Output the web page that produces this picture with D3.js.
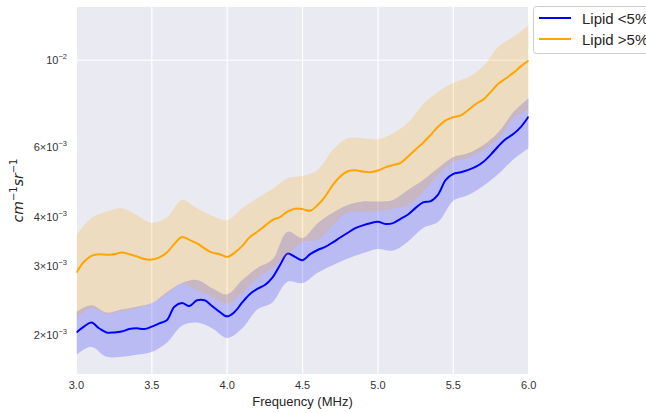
<!DOCTYPE html>
<html lang="en">
<head>
    <meta charset="utf-8">
    <title>lipid_backscatter</title>
    <script type="text/javascript" src="https://cdn.jsdelivr.net/npm/d3@7"></script>
    <style type="text/css">
        body { margin: 0; background: #ffffff; }
        text { font-family: "Liberation Sans", Arial, sans-serif; }
    </style>
</head>
<body>

<script type="text/javascript">

    // values are in units of 1e-3 cm^-1 sr^-1

    var lineFreq = [3.00, 3.05, 3.10, 3.15, 3.20, 3.25, 3.30, 3.35, 3.40, 3.45, 3.50,
        3.55, 3.60, 3.65, 3.70, 3.75, 3.80, 3.85, 3.90, 3.95, 4.00,
        4.05, 4.10, 4.15, 4.20, 4.25, 4.30, 4.35, 4.40, 4.45, 4.50,
        4.55, 4.60, 4.65, 4.70, 4.75, 4.80, 4.85, 4.90, 4.95, 5.00,
        5.05, 5.10, 5.15, 5.20, 5.25, 5.30, 5.35, 5.40, 5.45, 5.50,
        5.55, 5.60, 5.65, 5.70, 5.75, 5.80, 5.85, 5.90, 5.95, 6.00];

    var blueMean = [2.03, 2.10, 2.15, 2.08, 2.03, 2.03, 2.04, 2.07, 2.08, 2.07, 2.10,
        2.14, 2.18, 2.36, 2.41, 2.37, 2.45, 2.45, 2.37, 2.29, 2.23,
        2.29, 2.42, 2.54, 2.62, 2.68, 2.80, 3.01, 3.22, 3.16, 3.10,
        3.21, 3.29, 3.35, 3.44, 3.54, 3.64, 3.74, 3.80, 3.85, 3.88,
        3.83, 3.85, 3.95, 4.05, 4.21, 4.35, 4.38, 4.56, 4.96, 5.14,
        5.19, 5.26, 5.36, 5.52, 5.76, 6.05, 6.31, 6.50, 6.78, 7.19];

    var orangeMean = [2.88, 3.07, 3.18, 3.21, 3.20, 3.21, 3.24, 3.21, 3.17, 3.12, 3.11,
        3.15, 3.24, 3.41, 3.55, 3.49, 3.42, 3.32, 3.24, 3.21, 3.16,
        3.24, 3.37, 3.55, 3.66, 3.79, 3.92, 3.99, 4.12, 4.19, 4.18,
        4.14, 4.28, 4.50, 4.81, 5.06, 5.22, 5.25, 5.21, 5.19, 5.24,
        5.34, 5.41, 5.48, 5.69, 5.93, 6.17, 6.46, 6.78, 7.03, 7.16,
        7.24, 7.47, 7.74, 7.95, 8.32, 8.72, 9.00, 9.30, 9.66, 9.98];

    var bandFreq = [3.0, 3.1, 3.2, 3.3, 3.4, 3.5, 3.6, 3.7, 3.8, 3.9, 4.0,
        4.1, 4.2, 4.3, 4.4, 4.5, 4.6, 4.7, 4.8, 4.9, 5.0,
        5.1, 5.2, 5.3, 5.4, 5.5, 5.6, 5.7, 5.8, 5.9, 6.0];

    var blueLo = [1.78, 1.865, 1.76, 1.76, 1.78, 1.81, 1.91, 2.11, 2.15, 2.08, 1.965,
        2.08, 2.32, 2.42, 2.73, 2.71, 2.88, 3.01, 3.13, 3.23, 3.31,
        3.28, 3.46, 3.74, 3.88, 4.39, 4.54, 4.79, 5.14, 5.60, 5.97];
    var blueHi = [2.29, 2.38, 2.28, 2.32, 2.36, 2.41, 2.57, 2.71, 2.76, 2.63, 2.54,
        2.76, 2.96, 3.11, 3.66, 3.53, 3.85, 4.09, 4.28, 4.37, 4.37,
        4.41, 4.68, 4.96, 5.32, 5.67, 5.81, 6.09, 6.57, 7.39, 8.02];
    var orangeLo = [2.21, 2.34, 2.26, 2.30, 2.34, 2.41, 2.54, 2.70, 2.60, 2.50, 2.40,
        2.56, 2.79, 2.96, 3.20, 3.45, 3.49, 3.81, 4.09, 4.11, 4.14,
        4.19, 4.28, 4.62, 5.11, 5.51, 5.64, 5.91, 6.34, 7.13, 7.47];
    var orangeHi = [3.59, 3.97, 4.12, 4.20, 4.04, 3.86, 3.98, 4.41, 4.20, 4.02, 3.92,
        4.20, 4.46, 4.70, 5.01, 5.08, 5.26, 5.91, 6.33, 6.33, 6.29,
        6.52, 6.94, 7.74, 8.32, 8.77, 9.05, 9.68, 10.83, 11.48, 12.30];

    var xTicks = [3.0, 3.5, 4.0, 4.5, 5.0, 5.5, 6.0];
    var yTicks = [2, 3, 4, 6, 10];
    var yTickMant = ["2\u00d710", "3\u00d710", "4\u00d710", "6\u00d710", "10"];
    var yTickExp = ["\u22123", "\u22123", "\u22123", "\u22123", "\u22122"];
    var yGrid = [10];

    var seriesNames = ["Lipid <5%", "Lipid >5%"];
    var seriesColors = ["#0000ff", "#ffa500"];

    var width = 646, height = 413;
    var plot = {left: 76.4, right: 528.7, top: 7, bottom: 374};

    var x = d3.scaleLinear().domain([3, 6]).range([plot.left, plot.right]);
    var y = d3.scaleLog().domain([1.591, 13.66]).range([plot.bottom, plot.top]);

    var svg = d3.select("body")
        .append("svg")
        .attr("width", width)
        .attr("height", height);

    svg.append("rect")
        .attr("x", plot.left)
        .attr("y", plot.top)
        .attr("width", plot.right - plot.left)
        .attr("height", plot.bottom - plot.top)
        .attr("fill", "#eaeaf2");

    svg.append("clipPath")
        .attr("id", "plot-clip")
        .append("rect")
        .attr("x", plot.left)
        .attr("y", plot.top)
        .attr("width", plot.right - plot.left)
        .attr("height", plot.bottom - plot.top);

    //grid
    svg.selectAll("line.vgrid")
        .data(xTicks)
        .enter()
        .append("line")
        .attr("class", "vgrid")
        .attr("x1", d => x(d))
        .attr("x2", d => x(d))
        .attr("y1", plot.top)
        .attr("y2", plot.bottom)
        .attr("stroke", "#ffffff")
        .attr("stroke-width", 1.2);

    svg.selectAll("line.hgrid")
        .data(yGrid)
        .enter()
        .append("line")
        .attr("class", "hgrid")
        .attr("x1", plot.left)
        .attr("x2", plot.right)
        .attr("y1", d => y(d))
        .attr("y2", d => y(d))
        .attr("stroke", "#ffffff")
        .attr("stroke-width", 1.2);

    //bands and lines
    var series = [
        {lo: blueLo, hi: blueHi, mean: blueMean, color: seriesColors[0]},
        {lo: orangeLo, hi: orangeHi, mean: orangeMean, color: seriesColors[1]}
    ];

    var area = d3.area()
        .x(d => x(d.f))
        .y0(d => y(d.lo))
        .y1(d => y(d.hi))
        .curve(d3.curveCatmullRom);

    var line = d3.line()
        .x(d => x(d.f))
        .y(d => y(d.v))
        .curve(d3.curveCatmullRom.alpha(0.5));

    var g = svg.append("g").attr("clip-path", "url(#plot-clip)");

    series.forEach(function (s) {
        var bandRows = bandFreq.map((f, i) => ({f: f, lo: s.lo[i], hi: s.hi[i]}));
        var lineRows = lineFreq.map((f, i) => ({f: f, v: s.mean[i]}));
        g.append("path")
            .datum(bandRows)
            .attr("d", area)
            .attr("fill", s.color)
            .attr("fill-opacity", 0.2);
        g.append("path")
            .datum(lineRows)
            .attr("d", line)
            .attr("fill", "none")
            .attr("stroke", s.color)
            .attr("stroke-width", 2)
            .attr("stroke-linejoin", "round");
    });

    //x ticks
    svg.selectAll("text.xtick")
        .data(xTicks)
        .enter()
        .append("text")
        .attr("class", "xtick")
        .attr("x", d => x(d))
        .attr("y", 389)
        .attr("text-anchor", "middle")
        .attr("font-size", 11)
        .attr("fill", "#333333")
        .text(d => d.toFixed(1));

    svg.append("text")
        .attr("x", (plot.left + plot.right) / 2)
        .attr("y", 406)
        .attr("text-anchor", "middle")
        .attr("font-size", 13)
        .attr("fill", "#262626")
        .text("Frequency (MHz)");

    //y ticks, matplotlib-like mathtext
    var ytick = svg.selectAll("text.ytick")
        .data(yTicks)
        .enter()
        .append("text")
        .attr("class", "ytick")
        .attr("x", 67)
        .attr("y", d => y(d) + 4)
        .attr("text-anchor", "end")
        .attr("font-size", 11)
        .attr("fill", "#333333");
    ytick.append("tspan")
        .text((d, i) => yTickMant[i]);
    ytick.append("tspan")
        .attr("dy", -5)
        .attr("font-size", 7.5)
        .text((d, i) => yTickExp[i]);

    var ylab = svg.append("text")
        .attr("transform", "translate(23," + ((plot.top + plot.bottom) / 2) + ") rotate(-90)")
        .attr("text-anchor", "middle")
        .attr("font-size", 14)
        .attr("fill", "#262626")
        .style("font-family", "'DejaVu Sans', sans-serif")
        .style("font-style", "italic");
    ylab.append("tspan").text("cm");
    ylab.append("tspan").attr("dy", -6).attr("font-size", 10).style("font-style", "normal").text("\u22121");
    ylab.append("tspan").attr("dy", 6).text("sr");
    ylab.append("tspan").attr("dy", -6).attr("font-size", 10).style("font-style", "normal").text("\u22121");

    //legend
    var legend = svg.append("g");
    legend.append("rect")
        .attr("x", 533.5)
        .attr("y", 6.5)
        .attr("width", 130)
        .attr("height", 47)
        .attr("rx", 3)
        .attr("fill", "#ffffff")
        .attr("fill-opacity", 0.8)
        .attr("stroke", "#cccccc");

    var item = legend.selectAll("g.item")
        .data(seriesNames)
        .enter()
        .append("g")
        .attr("class", "item")
        .attr("transform", (d, i) => "translate(0," + (18 + i * 21) + ")");
    item.append("line")
        .attr("x1", 539)
        .attr("x2", 571)
        .attr("stroke", (d, i) => seriesColors[i])
        .attr("stroke-width", 2);
    item.append("text")
        .attr("x", 582)
        .attr("y", 5.5)
        .attr("font-size", 15)
        .attr("fill", "#262626")
        .text(d => d);

</script>
</body>
</html>
